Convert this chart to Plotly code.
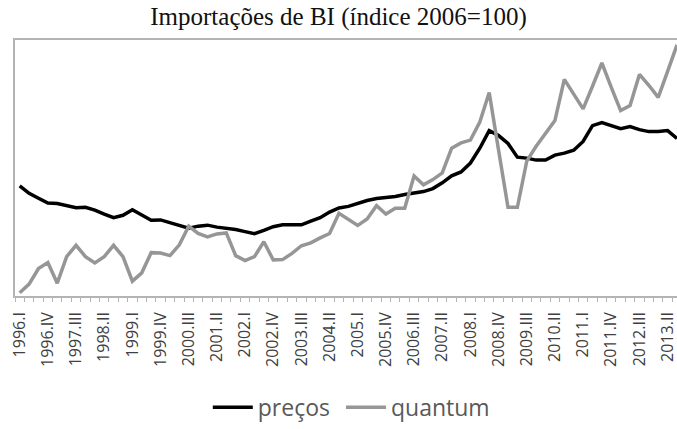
import plotly.graph_objects as go

# Quarter labels 1996.I .. 2013.III
years = list(range(1996, 2014))
roman = ["I", "II", "III", "IV"]
quarters = [f"{y}.{q}" for y in years for q in roman][:71]

precos = [106.7, 101.4, 97.9, 94.5, 94.2, 92.6, 91.2, 91.4, 89.5, 86.7,
          84.1, 85.8, 89.7, 86.0, 82.3, 82.5, 80.6, 78.6, 76.7, 78.1,
          78.8, 77.4, 76.7, 75.7, 74.2, 72.8, 75.1, 77.7, 79.0, 79.0,
          79.0, 81.6, 84.1, 88.1, 91.0, 92.1, 94.2, 96.3, 97.7, 98.4,
          99.1, 100.5, 101.5, 102.6, 104.7, 108.8, 113.7, 116.5, 122.8, 133.3,
          145.8, 142.3, 136.7, 127.0, 126.3, 124.9, 124.9, 128.4, 129.8, 131.9,
          138.1, 149.3, 151.4, 149.3, 147.2, 148.6, 146.5, 145.1, 145.1, 145.8,
          140.2]

quantum = [30.9, 37.0, 48.1, 52.3, 37.7, 56.5, 64.5, 56.5, 52.0, 56.5,
           64.5, 56.5, 39.1, 45.0, 59.3, 59.0, 57.2, 64.9, 78.1, 72.9,
           70.5, 72.6, 73.3, 57.2, 53.7, 56.5, 67.0, 54.2, 54.4, 58.8,
           64.2, 66.3, 69.8, 72.9, 87.2, 83.2, 78.6, 83.2, 92.6, 86.7,
           90.7, 90.7, 113.7, 107.4, 111.1, 115.8, 133.3, 137.1, 139.1, 151.9,
           172.8, 131.9, 91.4, 91.4, 124.2, 134.7, 143.7, 153.0, 182.1, 171.6,
           161.2, 177.2, 193.7, 176.5, 160.0, 163.5, 185.6, 177.9, 169.3, 187.7,
           206.5]

x_idx = list(range(len(quarters)))
label_idx = x_idx[::3]
label_txt = [quarters[i] for i in label_idx]

fig = go.Figure()
fig.add_trace(go.Scatter(x=x_idx, y=precos, mode="lines", name="preços\u00a0",
                         line=dict(color="#000000", width=3.5)))
fig.add_trace(go.Scatter(x=x_idx, y=quantum, mode="lines", name="quantum",
                         line=dict(color="#969696", width=3.5)))

fig.update_layout(
    width=677, height=429,
    margin=dict(l=15, r=0, t=40, b=129),
    paper_bgcolor="white", plot_bgcolor="white",
    title=dict(text="Importações de BI (índice 2006=100)", x=0.5, xanchor="center",
               y=0.962, yanchor="middle",
               font=dict(family="Liberation Serif", size=25, color="#111111")),
    showlegend=True,
    legend=dict(orientation="h", x=0.508, xanchor="center", y=-0.435, yanchor="middle",
                font=dict(family="Open Sans", size=23, color="#595959"),
                itemwidth=40, tracegroupgap=0),
    xaxis=dict(range=[-0.5, 70.0], tickmode="array", tickvals=label_idx, ticktext=label_txt,
               tickangle=-90, ticks="", showgrid=False, zeroline=False,
               showline=True, linecolor="#b4b4b4", linewidth=1.5, mirror=True,
               ticklabelstandoff=8, ticklabeloverflow="allow",
               tickfont=dict(family="Open Sans", size=16, color="#404040"),
               minor=dict(tickmode="linear", tick0=-0.5, dtick=1, ticks="outside",
                          ticklen=4, tickcolor="#b4b4b4", tickwidth=1, showgrid=False)),
    yaxis=dict(range=[28.6, 210.0], showticklabels=False, ticks="", showgrid=False,
               zeroline=False, showline=True, linecolor="#b4b4b4", linewidth=1.5),
)

fig.write_html("out.html")
